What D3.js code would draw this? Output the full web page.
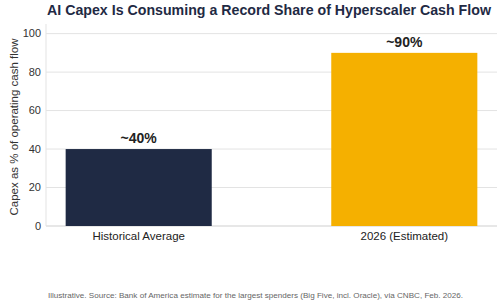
<!DOCTYPE html>
<html>
<head>
<meta charset="utf-8">
<script src="https://cdn.jsdelivr.net/npm/d3@7"></script>
<style>
  body { margin: 0; background: #fff; }
  svg { display: block; font-family: "Liberation Sans", Arial, sans-serif; }
</style>
</head>
<body>
<div id="chart"></div>
<script>
const categories = ["Historical Average", "2026 (Estimated)"]
const values = [40, 90]
const valueLabels = ["~40%", "~90%"]
const yTicks = [0, 20, 40, 60, 80, 100]
const colors = ["#1f2a44", "#f5b000"]

const width = 502, height = 306
const margin = {top: 24, right: 5, bottom: 80, left: 46}

const svg = d3.create("svg")
    .attr("width", width)
    .attr("height", height)
    .attr("viewBox", [0, 0, width, height])

const x = d3.scaleBand()
    .domain(categories)
    .range([margin.left, width - margin.right])
    .paddingInner(0.45)
    .paddingOuter(0.074)

const y = d3.scaleLinear()
    .domain([0, 105])
    .range([226, margin.top])

// gridlines
svg.append("g")
  .selectAll("line")
  .data(yTicks)
  .join("line")
    .attr("x1", margin.left)
    .attr("x2", width - margin.right)
    .attr("y1", d => y(d))
    .attr("y2", d => y(d))
    .attr("stroke", d => d === 0 ? "#cfcfcf" : "#e3e3e3")
    .attr("stroke-width", 1)

// left axis line
svg.append("line")
    .attr("x1", margin.left).attr("x2", margin.left)
    .attr("y1", margin.top).attr("y2", y(0))
    .attr("stroke", "#e3e3e3")

svg.append("g")
  .selectAll("text")
  .data(yTicks)
  .join("text")
    .attr("x", margin.left - 5)
    .attr("y", d => y(d))
    .attr("dy", "0.35em")
    .attr("text-anchor", "end")
    .attr("font-size", 11)
    .attr("fill", "#333")
    .text(d => d)

// bars
svg.append("g")
  .selectAll("rect")
  .data(values)
  .join("rect")
    .attr("x", (d, i) => x(categories[i]))
    .attr("width", x.bandwidth())
    .attr("y", d => y(d))
    .attr("height", d => y(0) - y(d))
    .attr("fill", (d, i) => colors[i])

svg.append("g")
  .selectAll("text")
  .data(values)
  .join("text")
    .attr("x", (d, i) => x(categories[i]) + x.bandwidth() / 2)
    .attr("y", d => y(d) - 6)
    .attr("text-anchor", "middle")
    .attr("font-size", 14)
    .attr("font-weight", "bold")
    .attr("fill", "#222")
    .text((d, i) => valueLabels[i])

// category labels
svg.append("g")
  .selectAll("text")
  .data(categories)
  .join("text")
    .attr("x", d => x(d) + x.bandwidth() / 2)
    .attr("y", 240)
    .attr("text-anchor", "middle")
    .attr("font-size", 11.5)
    .attr("fill", "#222")
    .text(d => d)

// y axis title
svg.append("text")
    .attr("transform", `translate(18,${(y(0) + margin.top) / 2 + 2}) rotate(-90)`)
    .attr("text-anchor", "middle")
    .attr("font-size", 11.5)
    .attr("fill", "#333")
    .text("Capex as % of operating cash flow")

// title
svg.append("text")
    .attr("x", 269)
    .attr("y", 15)
    .attr("text-anchor", "middle")
    .attr("font-size", 14.2)
    .attr("font-weight", "bold")
    .attr("fill", "#1f2a44")
    .text("AI Capex Is Consuming a Record Share of Hyperscaler Cash Flow")

// footnote
svg.append("text")
    .attr("x", 255.5)
    .attr("y", 298)
    .attr("text-anchor", "middle")
    .attr("font-size", 8.1)
    .attr("fill", "#666")
    .text("Illustrative. Source: Bank of America estimate for the largest spenders (Big Five, incl. Oracle), via CNBC, Feb. 2026.")

d3.select("#chart").node().appendChild(svg.node())
</script>
</body>
</html>
